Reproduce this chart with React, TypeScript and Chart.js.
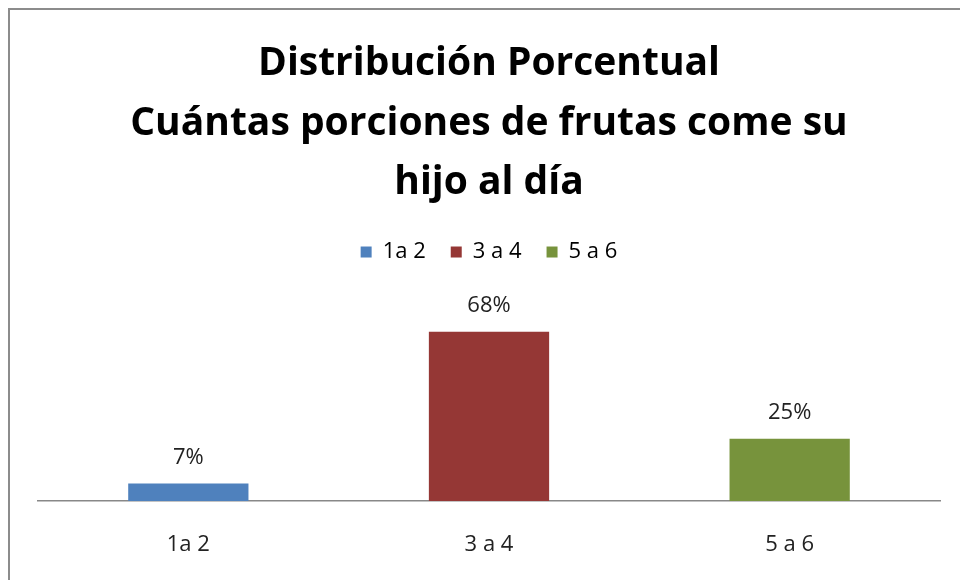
import React, { useEffect, useRef } from "react";
import { Chart, registerables } from "chart.js";

Chart.register(...registerables);

const categories = ["1a 2", "3 a 4", "5 a 6"];
const values = [0.07, 0.68, 0.25];
const valueLabels = ["7%", "68%", "25%"];
const colors = ["#4F81BD", "#953735", "#77933C"];
const titleLines = ["Distribución Porcentual", "Cuántas porciones de frutas come su", "hijo al día"];

const FONT = "'Open Sans', 'Noto Sans', sans-serif";

const valueLabelPlugin = {
  id: "valueLabels",
  afterDatasetsDraw(chart: any) {
    const { ctx } = chart;
    const meta = chart.getDatasetMeta(0);
    ctx.save();
    ctx.font = `22px ${FONT}`;
    ctx.fillStyle = "#222";
    ctx.textAlign = "center";
    ctx.textBaseline = "middle";
    meta.data.forEach((bar: any, i: number) => {
      ctx.fillText(valueLabels[i], bar.x, bar.y - 26);
    });
    ctx.restore();
  },
};

const legendMarginPlugin = {
  id: "legendMargin",
  beforeInit(chart: any) {
    const orig = chart.legend.fit;
    chart.legend.fit = function () {
      orig.call(this);
      this.height += 29;
    };
  },
};

export default function App() {
  const ref = useRef<HTMLCanvasElement>(null);
  useEffect(() => {
    if (!ref.current) return;
    const chart = new Chart(ref.current, {
      type: "bar",
      data: {
        labels: categories,
        datasets: [
          {
            data: values,
            backgroundColor: colors,
            barPercentage: 0.4,
            categoryPercentage: 1,
          },
        ],
      },
      options: {
        animation: false,
        responsive: false,
        maintainAspectRatio: false,
        layout: { padding: { left: 28, right: 20, bottom: 22, top: 0 } },
        plugins: {
          tooltip: { enabled: false },
          title: {
            display: true,
            text: titleLines,
            color: "#000",
            font: { family: FONT, size: 39, weight: "bold", lineHeight: 1.53 },
            padding: { top: 24, bottom: 3 },
          },
          legend: {
            display: true,
            position: "top",
            labels: {
              color: "#222",
              font: { family: FONT, size: 22 },
              boxWidth: 11,
              boxHeight: 11,
              padding: 25,
              generateLabels: () =>
                categories.map((c, i) => ({
                  text: c,
                  fillStyle: colors[i],
                  strokeStyle: colors[i],
                  lineWidth: 0,
                  hidden: false,
                  index: i,
                })),
            },
          },
        },
        scales: {
          x: {
            grid: { display: false, drawTicks: false },
            border: { display: true, color: "#888", width: 1.5 },
            ticks: { color: "#222", font: { family: FONT, size: 22 }, padding: 31 },
            afterFit: (scale: any) => {
              scale.height = 57;
            },
          },
          y: {
            display: false,
            min: 0,
            max: 0.8,
          },
        },
      },
      plugins: [valueLabelPlugin, legendMarginPlugin],
    });
    return () => chart.destroy();
  }, []);
  return (
    <div
      style={{
        position: "fixed",
        left: 8,
        top: 8,
        width: 1000,
        height: 600,
        borderLeft: "2px solid #8c8c8c",
        borderTop: "2px solid #8c8c8c",
        boxSizing: "border-box",
        background: "#fff",
        overflow: "hidden",
      }}
    >
      <canvas ref={ref} width={950} height={570} style={{ display: "block" }} />
    </div>
  );
}
